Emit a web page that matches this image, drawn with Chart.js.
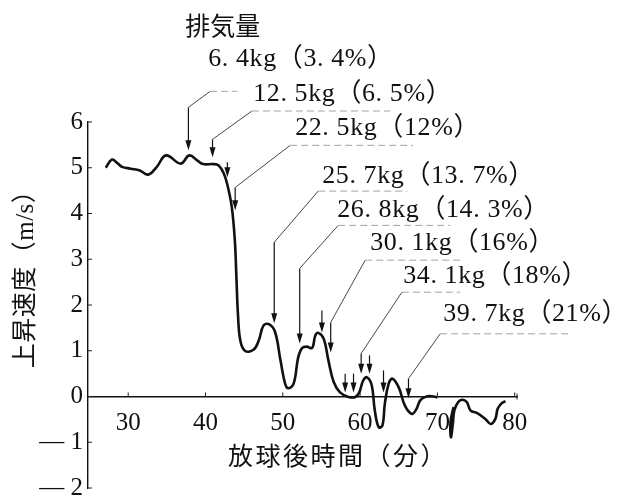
<!DOCTYPE html>
<html>
<head>
<meta charset="utf-8">
<script src="https://cdn.jsdelivr.net/npm/chart.js@4.4.1/dist/chart.umd.min.js"></script>
<style>
  html, body { margin: 0; padding: 0; background: #fff; }
  #wrap { width: 617px; height: 499px; position: relative; }
</style>
</head>
<body>
<div id="wrap"><canvas id="chart"></canvas></div>
<script>
// 放球後時間（分） / 上昇速度（m/s）  -- null = gap in the trace
var time_min = [27.1, 27.9, 28.6, 29.2, 30.3, 31.5, 32.6, 33.7, 34.9, 36.8, 37.9, 39.0, 39.7, 41.0, 41.7, 42.3, 42.8, 43.4, 43.8, 44.0, 44.2, 44.5, 45.1, 46.2, 46.9, 47.5, 48.2, 49.0, 49.7, 50.3, 50.7, 51.4, 52.0, 52.5, 53.1, 53.8, 54.2, 54.6, 55.3, 55.9, 56.6, 57.4, 58.5, 59.4, 59.9, 60.4, 60.9, 61.5, 61.9, 62.4, 62.9, 63.2, 63.7, 64.2, 65.0, 65.8, 66.7, 67.3, 67.8, 68.6, 69.5, 70.0,
  null,
  72.1, 71.7, 71.75, 72.0, 72.2, 72.7, 73.2, 73.8, 74.3, 75.1, 76.2, 76.9, 77.5, 77.8, 78.3, 78.8];
var rise_speed = [5.00, 5.18, 5.10, 5.02, 4.98, 4.94, 4.85, 5.02, 5.27, 5.09, 5.27, 5.15, 5.08, 5.08, 5.05, 4.90, 4.65, 4.14, 3.40, 2.60, 1.80, 1.23, 1.00, 1.02, 1.23, 1.55, 1.58, 1.41, 0.79, 0.28, 0.18, 0.28, 0.86, 1.06, 1.09, 1.06, 1.33, 1.39, 1.26, 0.79, 0.31, 0.09, -0.01, -0.01, 0.09, 0.35, 0.42, 0.25, -0.30, -0.67, -0.63, -0.16, 0.28, 0.39, 0.20, -0.20, -0.38, -0.27, -0.08, 0.00, 0.00, -0.02,
  null,
  -0.23, -0.55, -0.89, -0.60, -0.30, -0.12, -0.07, -0.12, -0.31, -0.36, -0.49, -0.60, -0.49, -0.27, -0.15, -0.10];

var x_ticks = [30, 40, 50, 60, 70, 80];
var y_ticks = [6, 5, 4, 3, 2, 1, 0, -1, -2];
var y_tick_labels = ['6', '5', '4', '3', '2', '1', '0', '— 1', '— 2'];

// arrows (minutes, m/s)
var arrow_x   = [37.79, 40.91, 42.83, 43.84, 48.89, 52.19, 55.06, 56.20, 58.07, 59.15, 60.14, 61.22, 63.03, 66.26];
var arrow_top = [6.32, 5.62, 5.12, 4.57, 3.37, 2.80, 1.88, 1.62, 0.50, 0.50, 0.94, 0.90, 0.57, 0.39];
var arrow_tip = [5.38, 5.23, 4.79, 4.07, 1.60, 1.16, 1.40, 0.96, 0.09, 0.09, 0.50, 0.50, 0.09, -0.04];

// 排気量 labels and their leader lines
var exhaust_text = ['6. 4kg（3. 4%）', '12. 5kg（6. 5%）', '22. 5kg（12%）', '25. 7kg（13. 7%）', '26. 8kg（14. 3%）', '30. 1kg（16%）', '34. 1kg（18%）', '39. 7kg（21%）'];
var exhaust_x = [40.35, 46.17, 51.6, 55.1, 57.04, 61.31, 65.58, 70.75];
var exhaust_y = [7.37, 6.61, 5.86, 4.81, 4.07, 3.35, 2.63, 1.79];
var leader_arrow = [0, 1, 3, 4, 5, 7, 10, 13];
var elbow_x = [40.6, 46.0, 50.96, 54.58, 57.17, 60.66, 65.41, 70.36];
var elbow_y = [6.67, 6.24, 5.49, 4.49, 3.74, 2.98, 2.28, 1.37];
var underline_end = [44.1, 63.9, 66.87, 66.1, 71.66, 73.34, 72.95, 87.2];
var header_x = 37.37, header_y = 8.12;

var serif = "'Liberation Serif', 'Noto Sans CJK JP', serif";

var points = time_min.map(function(t, i){
  return t === null ? {x: null, y: null} : {x: t, y: rise_speed[i]};
});

var annotatePlugin = {
  id: 'annotate',
  afterDraw: function(chart){
    var ctx = chart.ctx, xs = chart.scales.x, ys = chart.scales.y;
    var area = chart.chartArea;
    var y0 = ys.getPixelForValue(0);
    ctx.save();

    // small ticks pointing inward
    ctx.strokeStyle = '#222';
    ctx.lineWidth = 1;
    y_ticks.forEach(function(v){
      var py = ys.getPixelForValue(v);
      ctx.beginPath(); ctx.moveTo(area.left, py); ctx.lineTo(area.left + 4, py); ctx.stroke();
    });
    x_ticks.forEach(function(v){
      var px = xs.getPixelForValue(v);
      ctx.beginPath(); ctx.moveTo(px, y0); ctx.lineTo(px, y0 - 4); ctx.stroke();
    });
    ctx.beginPath(); ctx.moveTo(area.right, y0 - 3); ctx.lineTo(area.right, y0 + 3); ctx.stroke();

    // arrows
    ctx.fillStyle = '#111';
    ctx.strokeStyle = '#111';
    arrow_x.forEach(function(v, i){
      var px = xs.getPixelForValue(v);
      var pt = ys.getPixelForValue(arrow_top[i]);
      var pb = ys.getPixelForValue(arrow_tip[i]);
      ctx.lineWidth = 1.2;
      ctx.beginPath(); ctx.moveTo(px, pt); ctx.lineTo(px, pb - 6); ctx.stroke();
      ctx.beginPath();
      ctx.moveTo(px, pb); ctx.lineTo(px - 3, pb - 10); ctx.lineTo(px + 3, pb - 10);
      ctx.closePath(); ctx.fill();
    });

    // leaders
    leader_arrow.forEach(function(a, i){
      var ax = xs.getPixelForValue(arrow_x[a]);
      var ay = ys.getPixelForValue(arrow_top[a]);
      var ex = xs.getPixelForValue(elbow_x[i]);
      var ey = ys.getPixelForValue(elbow_y[i]);
      var ux = xs.getPixelForValue(underline_end[i]);
      ctx.strokeStyle = '#333';
      ctx.lineWidth = 0.9;
      ctx.setLineDash([]);
      ctx.beginPath(); ctx.moveTo(ax, ay); ctx.lineTo(ex, ey); ctx.stroke();
      ctx.strokeStyle = '#999';
      ctx.setLineDash([7, 4]);
      ctx.beginPath(); ctx.moveTo(ex, ey); ctx.lineTo(ux, ey); ctx.stroke();
    });
    ctx.setLineDash([]);

    // texts
    ctx.fillStyle = '#111';
    ctx.textBaseline = 'middle';
    ctx.textAlign = 'left';
    ctx.font = '26px ' + serif;
    ctx.letterSpacing = '0.6px';
    exhaust_text.forEach(function(t, i){
      ctx.fillText(t, xs.getPixelForValue(exhaust_x[i]), ys.getPixelForValue(exhaust_y[i]));
    });
    ctx.letterSpacing = '0px';
    ctx.font = "25px 'Noto Sans CJK JP'";
    ctx.fillText('排気量', xs.getPixelForValue(header_x), ys.getPixelForValue(header_y));

    // axis titles
    ctx.font = '25px ' + serif;
    ctx.letterSpacing = '2.5px';
    ctx.fillText('放球後時間（分）', 228, 458);
    ctx.textAlign = 'center';
    ctx.letterSpacing = '0.5px';
    ctx.translate(26, 273);
    ctx.rotate(-Math.PI / 2);
    ctx.fillText('上昇速度（m/s）', 0, 0);
    ctx.restore();
  }
};

var ctx = document.getElementById('chart').getContext('2d');
var chart = new Chart(ctx, {
  type: 'line',
  data: {
    datasets: [{
      data: points,
      borderColor: '#111',
      borderWidth: 2.6,
      pointRadius: 0,
      tension: 0.4,
      fill: false,
      spanGaps: false
    }]
  },
  options: {
    responsive: true,
    maintainAspectRatio: false,
    animation: false,
    layout: { padding: { top: 122, bottom: 11, left: 0, right: 100 } },
    plugins: { legend: { display: false }, tooltip: { enabled: false } },
    scales: {
      x: {
        type: 'linear',
        position: { y: 0 },
        min: 24.8,
        max: 80.3,
        afterBuildTicks: function(axis){ axis.ticks = x_ticks.map(function(v){ return {value: v}; }); },
        afterFit: function(scale){ scale.paddingLeft = 0; scale.paddingRight = 0; },
        grid: { display: false, drawTicks: false },
        border: { display: true, color: '#111', width: 1.4 },
        ticks: { color: '#111', padding: 12, maxRotation: 0, font: { family: serif, size: 25 } }
      },
      y: {
        type: 'linear',
        position: 'left',
        min: -2,
        max: 6,
        afterBuildTicks: function(axis){ axis.ticks = y_ticks.map(function(v){ return {value: v}; }); },
        afterFit: function(scale){ scale.width = 88; scale.paddingTop = 0; scale.paddingBottom = 0; },
        grid: { display: false, drawTicks: false },
        border: { display: true, color: '#111', width: 1.4 },
        ticks: {
          color: '#111', padding: 5, font: { family: serif, size: 25 },
          callback: function(v){ return y_tick_labels[y_ticks.indexOf(v)]; }
        }
      }
    }
  },
  plugins: [annotatePlugin]
});
</script>
</body>
</html>
